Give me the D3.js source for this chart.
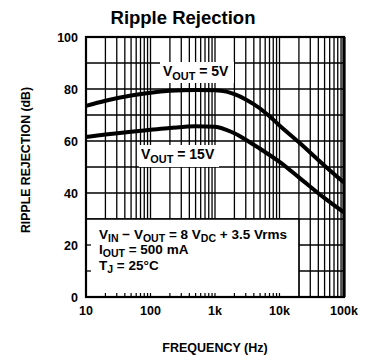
<!DOCTYPE html>
<html><head><meta charset="utf-8">
<script src="https://cdn.jsdelivr.net/npm/d3@7"></script>
<style>
html,body{margin:0;padding:0;background:#fff;}
svg text{font-family:"Liberation Sans",Arial,sans-serif;font-weight:bold;fill:#000;}
</style></head>
<body>
<svg id="c" width="367" height="360"></svg>
<script>
// ---- data ----
const freqs5  = [10, 20, 50, 100, 200, 500, 1000, 1500, 2000, 3000, 5000, 7000, 10000, 20000, 50000, 100000];
const vout5   = [73.5, 75.5, 77.5, 78.6, 79.3, 79.6, 79.5, 79, 78, 76, 72.5, 69.5, 66, 59.5, 50.5, 44];
const freqs15 = [10, 20, 50, 100, 200, 500, 1000, 1500, 2000, 3000, 5000, 7000, 10000, 20000, 50000, 100000];
const vout15  = [61.5, 62.5, 63.6, 64.3, 65, 65.7, 65.5, 64.3, 63, 60.5, 57, 54.6, 52, 46, 38, 32.5];
const yTicks  = [0, 20, 40, 60, 80, 100];
const xTicks  = [10, 100, 1000, 10000, 100000];
const xTickLabels = ["10", "100", "1k", "10k", "100k"];
const title = "Ripple Rejection";
const yLabel = "RIPPLE REJECTION (dB)";
const xLabel = "FREQUENCY (Hz)";

const svg = d3.select("#c");
const x = d3.scaleLog().domain([10, 100000]).range([86, 344]);
const y = d3.scaleLinear().domain([0, 100]).range([297, 37]);

// grid
const minor = [];
for (let d = 10; d < 100000; d *= 10) for (let m = 1; m < 10; m++) minor.push(d * m);
minor.push(100000);
const g = svg.append("g");
g.selectAll("line.v").data(minor).join("line")
  .attr("x1", d => x(d)).attr("x2", d => x(d))
  .attr("y1", y(100)).attr("y2", y(0))
  .attr("stroke", "#000").attr("stroke-width", 1.3);
g.selectAll("line.h").data(d3.range(10, 100, 10)).join("line")
  .attr("x1", x(10)).attr("x2", x(100000))
  .attr("y1", d => y(d)).attr("y2", d => y(d))
  .attr("stroke", "#000").attr("stroke-width", 1.3);

// white annotation box (10 Hz..20 kHz, 0..30 dB)
svg.append("rect").attr("x", x(10)).attr("y", y(30))
  .attr("width", x(20000) - x(10)).attr("height", y(0) - y(30)).attr("fill", "#fff");
svg.append("path")
  .attr("d", `M${x(10)},${y(30)}H${x(20000)}V${y(0)}`)
  .attr("fill", "none").attr("stroke", "#000").attr("stroke-width", 1.5);
// ticks inside box
svg.selectAll("line.lt").data([10, 20]).join("line")
  .attr("x1", x(10)).attr("x2", x(10) + 5)
  .attr("y1", d => y(d)).attr("y2", d => y(d))
  .attr("stroke", "#000").attr("stroke-width", 1.3);
svg.selectAll("line.bt").data(minor.filter(d => d > 10 && d < 20000)).join("line")
  .attr("x1", d => x(d)).attr("x2", d => x(d))
  .attr("y1", y(0)).attr("y2", y(0) - 4)
  .attr("stroke", "#000").attr("stroke-width", 1.2);

// frame
svg.append("rect").attr("x", x(10)).attr("y", y(100))
  .attr("width", x(100000) - x(10)).attr("height", y(0) - y(100))
  .attr("fill", "none").attr("stroke", "#000").attr("stroke-width", 2.2);
svg.append("line").attr("x1", x(100000)).attr("x2", x(100000))
  .attr("y1", y(100)).attr("y2", y(0)).attr("stroke", "#000").attr("stroke-width", 3.2);

// curves
const line = d3.line().x(d => x(d[0])).y(d => y(d[1])).curve(d3.curveMonotoneX);
svg.append("path").datum(freqs5.map((f, i) => [f, vout5[i]]))
  .attr("d", line).attr("fill", "none").attr("stroke", "#000").attr("stroke-width", 4);
svg.append("path").datum(freqs15.map((f, i) => [f, vout15[i]]))
  .attr("d", line).attr("fill", "none").attr("stroke", "#000").attr("stroke-width", 4);

// curve labels
function subText(parent, xx, yy, parts, size, off) {
  const t = parent.append("text").attr("x", xx).attr("y", yy).attr("font-size", size);
  parts.forEach(p => {
    const s = t.append("tspan").text(p.t);
    if (p.sub) s.attr("dy", off).attr("font-size", size * 0.78);
    if (p.up) s.attr("dy", -off);
  });
  return t;
}
svg.append("rect").attr("x", 160).attr("y", 62).attr("width", 74).attr("height", 21).attr("fill", "#fff");
subText(svg, 163, 76, [{t:"V"},{t:"OUT",sub:1},{t:" = 5V",up:1}], 14, 3.5);
svg.append("rect").attr("x", 139).attr("y", 145).attr("width", 80).attr("height", 22).attr("fill", "#fff");
subText(svg, 141, 159, [{t:"V"},{t:"OUT",sub:1},{t:" = 15V",up:1}], 14, 3.5);

// annotation
subText(svg, 99, 239, [{t:"V"},{t:"IN",sub:1},{t:" − V",up:1},{t:"OUT",sub:1},{t:" = 8 V",up:1},{t:"DC",sub:1},{t:" + 3.5 Vrms",up:1}], 13.5, 2.5);
subText(svg, 99, 254, [{t:"I"},{t:"OUT",sub:1},{t:" = 500 mA",up:1}], 13.5, 2.5);
subText(svg, 99, 270, [{t:"T"},{t:"J",sub:1},{t:" = 25°C",up:1}], 13.5, 2.5);

// axis tick labels
svg.selectAll("text.yt").data(yTicks).join("text")
  .attr("x", 78).attr("y", d => y(d) + 4.5).attr("text-anchor", "end")
  .attr("font-size", 12.5).text(d => d);
svg.selectAll("text.xt").data(xTicks).join("text")
  .attr("x", d => x(d)).attr("y", 315).attr("text-anchor", "middle")
  .attr("font-size", 12.5).text((d, i) => xTickLabels[i]);

// titles
svg.append("text").attr("x", 183).attr("y", 24).attr("text-anchor", "middle")
  .attr("font-size", 18.5).text(title);
svg.append("text").attr("transform", "translate(30,160) rotate(-90)")
  .attr("text-anchor", "middle").attr("font-size", 12)
  .attr("textLength", 146).attr("lengthAdjust", "spacingAndGlyphs").text(yLabel);
svg.append("text").attr("x", 215).attr("y", 352).attr("text-anchor", "middle")
  .attr("font-size", 12.5).text(xLabel);
</script>
</body></html>
